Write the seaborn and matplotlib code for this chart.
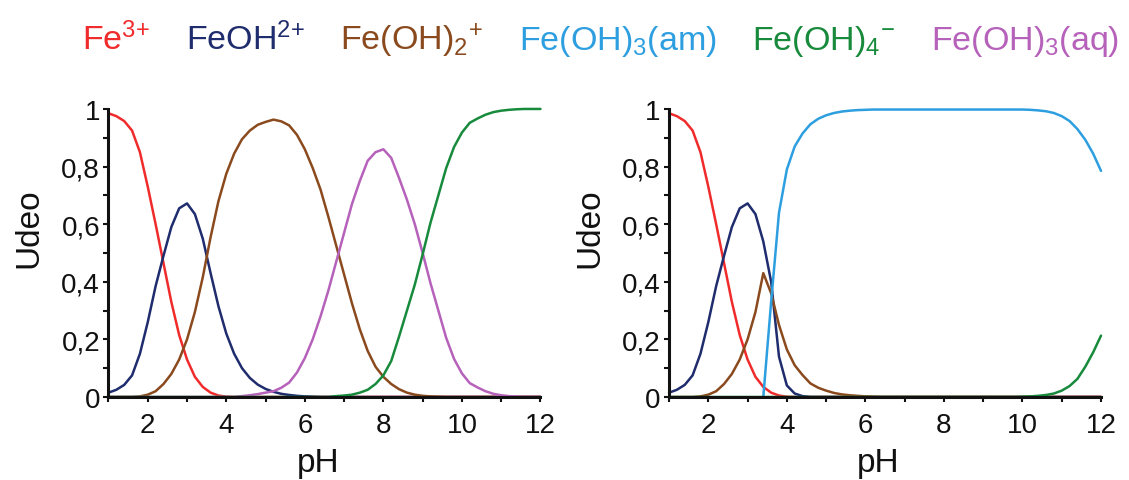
import numpy as np
import pandas as pd
import seaborn as sns
from matplotlib import pyplot as plt
from matplotlib.lines import Line2D
from matplotlib.ticker import MultipleLocator

nan = np.nan

# pH grid (0.2 steps, 1 .. 12)
ph = np.round(np.arange(1.0, 12.01, 0.2), 1)

species = ["Fe3+", "FeOH2+", "Fe(OH)2+", "Fe(OH)3(am)", "Fe(OH)4-", "Fe(OH)3(aq)"]
legend_labels = ["Fe$^{3{+}}$", "FeOH$^{2{+}}$", "Fe(OH)$_2{}^{{+}}$",
                 "Fe(OH)$_3$(am)", "Fe(OH)$_4{}^{{-}}$", "Fe(OH)$_3$(aq)"]
colors = ["#f02b2b", "#1f2c6d", "#8a4a1e", "#2d9fe0", "#178a3c", "#b661ba"]

ytick_values = [0, 0.2, 0.4, 0.6, 0.8, 1.0]
ytick_labels = ["0", "0,2", "0,4", "0,6", "0,8", "1"]
xtick_values = [2, 4, 6, 8, 10, 12]

# left panel: without solid phase
fe3 = [0.985, 0.975, 0.958, 0.925, 0.850,
       0.730, 0.600, 0.465, 0.330, 0.215,
       0.130, 0.070, 0.035, 0.015, 0.005,
       0.001, 0, 0, 0, 0,
       0, 0, 0, 0, 0,
       0, 0, 0, 0, 0,
       0, 0, 0, 0, 0,
       0, 0, 0, 0, 0,
       0, 0, 0, 0, 0,
       0, 0, 0, 0, 0,
       0, 0, 0, 0, 0,
       0]
feoh_left = [0.015, 0.025, 0.042, 0.075, 0.150,
             0.260, 0.385, 0.490, 0.590, 0.655,
             0.672, 0.635, 0.550, 0.430, 0.315,
             0.220, 0.150, 0.100, 0.066, 0.043,
             0.028, 0.018, 0.011, 0.007, 0.004,
             0.002, 0.001, 0, 0, 0,
             0, 0, 0, 0, 0,
             0, 0, 0, 0, 0,
             0, 0, 0, 0, 0,
             0, 0, 0, 0, 0,
             0, 0, 0, 0, 0,
             0]
feoh2_left = [0, 0, 0, 0, 0.002,
              0.008, 0.020, 0.045, 0.080, 0.130,
              0.200, 0.295, 0.415, 0.555, 0.680,
              0.775, 0.845, 0.895, 0.925, 0.945,
              0.955, 0.963, 0.957, 0.943, 0.910,
              0.860, 0.795, 0.720, 0.625, 0.525,
              0.425, 0.325, 0.235, 0.160, 0.105,
              0.070, 0.045, 0.027, 0.015, 0.008,
              0.004, 0.002, 0.001, 0, 0,
              0, 0, 0, 0, 0,
              0, 0, 0, 0, 0,
              0]
feoh3aq_left = [0, 0, 0, 0, 0,
                0, 0, 0, 0, 0,
                0, 0, 0, 0, 0,
                0, 0, 0.003, 0.006, 0.010,
                0.015, 0.020, 0.032, 0.050, 0.085,
                0.135, 0.200, 0.280, 0.370, 0.470,
                0.570, 0.670, 0.750, 0.820, 0.850,
                0.860, 0.830, 0.760, 0.685, 0.600,
                0.500, 0.395, 0.300, 0.205, 0.132,
                0.082, 0.048, 0.033, 0.020, 0.011,
                0.006, 0.003, 0.001, 0, 0,
                0]
feoh4_left = [0, 0, 0, 0, 0,
              0, 0, 0, 0, 0,
              0, 0, 0, 0, 0,
              0, 0, 0, 0, 0,
              0, 0, 0, 0, 0,
              0, 0, 0, 0, 0.003,
              0.005, 0.008, 0.015, 0.025, 0.045,
              0.075, 0.125, 0.210, 0.300, 0.390,
              0.495, 0.605, 0.700, 0.795, 0.868,
              0.918, 0.952, 0.967, 0.980, 0.989,
              0.994, 0.997, 0.999, 1.0, 1.0,
              1.0]

# right panel: with amorphous Fe(OH)3 precipitate
feoh_right = [0.015, 0.025, 0.042, 0.075, 0.150,
              0.260, 0.385, 0.490, 0.590, 0.655,
              0.672, 0.635, 0.540, 0.400, 0.140,
              0.040, 0.012, 0.003, 0, 0,
              0, 0, 0, 0, 0,
              0, 0, 0, 0, 0,
              0, 0, 0, 0, 0,
              0, 0, 0, 0, 0,
              0, 0, 0, 0, 0,
              0, 0, 0, 0, 0,
              0, 0, 0, 0, 0,
              0]
feoh2_right = [0, 0, 0, 0, 0.002,
               0.008, 0.020, 0.045, 0.080, 0.130,
               0.200, 0.295, 0.430, 0.360, 0.250,
               0.165, 0.110, 0.076, 0.047, 0.032,
               0.022, 0.014, 0.009, 0.006, 0.004,
               0.002, 0.001, 0, 0, 0,
               0, 0, 0, 0, 0,
               0, 0, 0, 0, 0,
               0, 0, 0, 0, 0,
               0, 0, 0, 0, 0,
               0, 0, 0, 0, 0,
               0]
feoh3am_right = [nan, nan, nan, nan, nan,
                 nan, nan, nan, nan, nan,
                 nan, nan, 0.0, 0.330, 0.640,
                 0.790, 0.870, 0.915, 0.947, 0.966,
                 0.978, 0.986, 0.991, 0.994, 0.996,
                 0.997, 0.998, 0.998, 0.998, 0.998,
                 0.998, 0.998, 0.998, 0.998, 0.998,
                 0.998, 0.998, 0.998, 0.998, 0.998,
                 0.998, 0.998, 0.998, 0.998, 0.998,
                 0.998, 0.997, 0.995, 0.992, 0.986,
                 0.975, 0.958, 0.930, 0.893, 0.845,
                 0.785]
feoh4_right = [0, 0, 0, 0, 0,
               0, 0, 0, 0, 0,
               0, 0, 0, 0, 0,
               0, 0, 0, 0, 0,
               0, 0, 0, 0, 0,
               0, 0, 0, 0, 0,
               0, 0, 0, 0, 0,
               0, 0, 0, 0, 0,
               0, 0, 0, 0, 0,
               0.001, 0.002, 0.004, 0.007, 0.012,
               0.022, 0.038, 0.063, 0.105, 0.155,
               0.213]

left = pd.DataFrame({"pH": ph, "Fe3+": fe3, "FeOH2+": feoh_left,
                     "Fe(OH)2+": feoh2_left, "Fe(OH)3(aq)": feoh3aq_left,
                     "Fe(OH)4-": feoh4_left})
right = pd.DataFrame({"pH": ph, "Fe3+": fe3, "FeOH2+": feoh_right,
                      "Fe(OH)2+": feoh2_right, "Fe(OH)3(am)": feoh3am_right,
                      "Fe(OH)4-": feoh4_right})

sns.set_theme(style="ticks")
plt.rcParams["font.family"] = ["Liberation Sans", "DejaVu Sans"]
plt.rcParams["mathtext.fontset"] = "custom"
plt.rcParams["mathtext.rm"] = "Liberation Sans"
plt.rcParams["mathtext.default"] = "regular"

palette = dict(zip(species, colors))

fig, axes = plt.subplots(1, 2, figsize=(11.29, 4.81), dpi=100)
positions = [[0.0961, 0.1726, 0.3826, 0.5988], [0.5926, 0.1726, 0.3826, 0.5988]]

for ax, df, pos in zip(axes, [left, right], positions):
    long = df.melt(id_vars="pH", var_name="Species", value_name="Udeo").dropna()
    sns.lineplot(data=long, x="pH", y="Udeo", hue="Species", palette=palette,
                 linewidth=1.8, errorbar=None, legend=False, ax=ax)
    for line in ax.lines:
        line.set_clip_on(False)
    ax.set_position(pos)
    ax.set_xlim(1, 12)
    ax.set_ylim(0, 1)
    ax.set_xticks(xtick_values)
    ax.xaxis.set_minor_locator(MultipleLocator(1))
    ax.set_yticks(ytick_values)
    ax.set_yticklabels(ytick_labels)
    ax.yaxis.set_minor_locator(MultipleLocator(0.1))
    ax.tick_params(which="both", direction="out", length=3.6, width=1.5,
                   color="#111111", labelsize=20, labelcolor="#111111")
    ax.tick_params(axis="x", which="both", pad=7)
    ax.tick_params(axis="y", which="both", pad=2.5)
    sns.despine(ax=ax)
    for side in ["left", "bottom"]:
        ax.spines[side].set_linewidth(2.2)
        ax.spines[side].set_color("#111111")
    ax.set_xlabel("pH", fontsize=24, color="#111111")
    ax.set_ylabel("Udeo", fontsize=24, color="#111111")
    ax.xaxis.set_label_coords(0.485, -0.175)
    ax.yaxis.set_label_coords(-0.148, 0.588)

handles = [Line2D([], [], color=c) for c in colors]
leg = fig.legend(handles, legend_labels, loc="center", bbox_to_anchor=(0.532, 0.915),
                 ncol=6, frameon=False, handlelength=0, handletextpad=0,
                 columnspacing=1.05, fontsize=24.5)
for text, c in zip(leg.get_texts(), colors):
    text.set_color(c)

plt.savefig("out.png", dpi=100)
